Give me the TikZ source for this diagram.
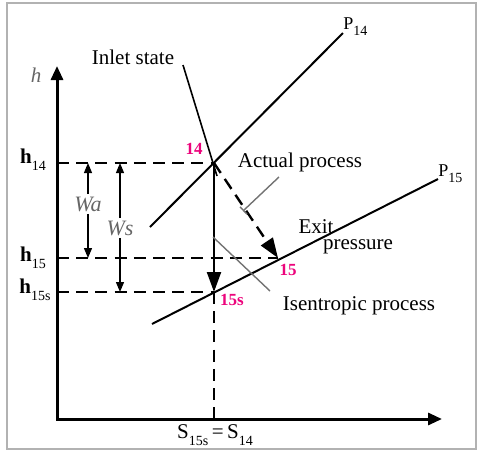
\documentclass[tikz,border=0pt]{standalone}
\usepackage{xcolor}
\usepackage{fontspec}
\setmainfont{Liberation Serif}
\usetikzlibrary{arrows.meta}

\newcommand{\lowsub}[1]{\raisebox{-0.7ex}{\scriptsize #1}}

\begin{document}
\begin{tikzpicture}[x=0.5pt, y=-0.5pt, every node/.style={align=center, inner sep=1pt, font=\fontsize{10.5}{12}\selectfont}]
      \colorlet{ptcol}{magenta!85!red} \colorlet{leadcol}{black!55}
      \colorlet{workcol}{black!60}
      \tikzset{axis/.style={line width=1.5pt, {Triangle[length=7pt,width=6pt]}-{Triangle[length=7pt,width=6pt]}},
        hline/.style={line width=1.2pt, dash pattern=on 6pt off 3.6pt},
        pline/.style={line width=1pt},
        bigtip/.style={-{Triangle[length=10pt,width=7pt]}},
        warrow/.style={line width=0.6pt, -{Triangle[length=5pt,width=4pt]}},
        leader/.style={leadcol, line width=0.7pt},
        ptlabel/.style={ptcol, font=\fontsize{8.5}{10}\selectfont\bfseries}}

      \useasboundingbox (0,0) rectangle (478,451);
      \draw[gray!60, line width=0.8pt] (7,3) rectangle (476,449);

      % axes
      \coordinate (origin) at (57,419);
      \draw[axis] (57,66) -- (origin) -- (442,419);
      \node[workcol] (haxis) at (36,75) {\textit{h}};

      % state points
      \coordinate (p14) at (214,163);
      \coordinate (p15) at (278,258);
      \coordinate (p15s) at (214,292);

      % isobars
      \coordinate (iso14lo) at (150,227); \coordinate (iso14hi) at (343,33);
      \coordinate (iso15lo) at (152,324); \coordinate (iso15hi) at (438,179);
      \draw[pline] (iso14lo) -- (iso14hi);
      \draw[pline] (iso15lo) -- (iso15hi);
      \node[anchor=south west, font=\fontsize{9}{10}\selectfont, inner sep=0pt] (plab14) at (343,36) {P\lowsub{14}};
      \node[anchor=south west, font=\fontsize{9}{10}\selectfont, inner sep=0pt] (plab15) at (438,183) {P\lowsub{15}};

      % enthalpy levels
      \node (h14) at (33,160) {\textbf{h}\lowsub{14}};
      \node (h15) at (33,258) {\textbf{h}\lowsub{15}};
      \node (h15s) at (35,290) {\textbf{h}\lowsub{15s}};
      \draw[hline] (origin |- p14) -- (p14);
      \draw[hline] (origin |- p15) -- (p15);
      \draw[hline] (origin |- p15s) -- (p15s);
      \draw[hline] (p15s) -- (p15s |- origin);
      \node[anchor=north] (slab) at (215,422) {S\lowsub{15s}\,=\,S\lowsub{14}};

      % work arrows
      \node[workcol, font=\fontsize{11}{12}\selectfont] (wa) at (88,204) {\textit{Wa}};
      \node[workcol, font=\fontsize{11}{12}\selectfont] (ws) at (120,228) {\textit{Ws}};
      \draw[warrow] (wa) -- (wa |- p14);
      \draw[warrow] (wa) -- (wa |- p15);
      \draw[warrow] (ws) -- (ws |- p14);
      \draw[warrow] (ws) -- (ws |- p15s);

      % processes
      \draw[line width=1.1pt, bigtip] (p14) -- (p15s);
      \draw[line width=1.2pt, dash pattern=on 6pt off 3.6pt, bigtip] (p14) -- (p15);
      \node[ptlabel] (l14) at (194,149) {14};
      \node[ptlabel] (l15) at (288,270) {15};
      \node[ptlabel] (l15s) at (232,300) {15s};

      % labels and leaders
      \node (inlet) at (133,57) {Inlet state};
      \coordinate (inletA) at (183,65); \coordinate (inletB) at (217,176);
      \draw[pline, line width=0.8pt] (inletA) -- (inletB);

      \node (actual) at (300,162) {Actual process};
      \coordinate (actA) at (279,177); \coordinate (actB) at (243,211);
      \draw[leader, -{Bar[width=5pt]}] (actA) -- (actB);

      \node (exit) at (316,227) {Exit};
      \node (pres) at (358,247) {pressure};

      \node (isen) at (359,306) {Isentropic process};
      \coordinate (isenA) at (270,291); \coordinate (isenB) at (213,237);
      \draw[leader] (isenA) -- (isenB);
    \end{tikzpicture}
\end{document}
